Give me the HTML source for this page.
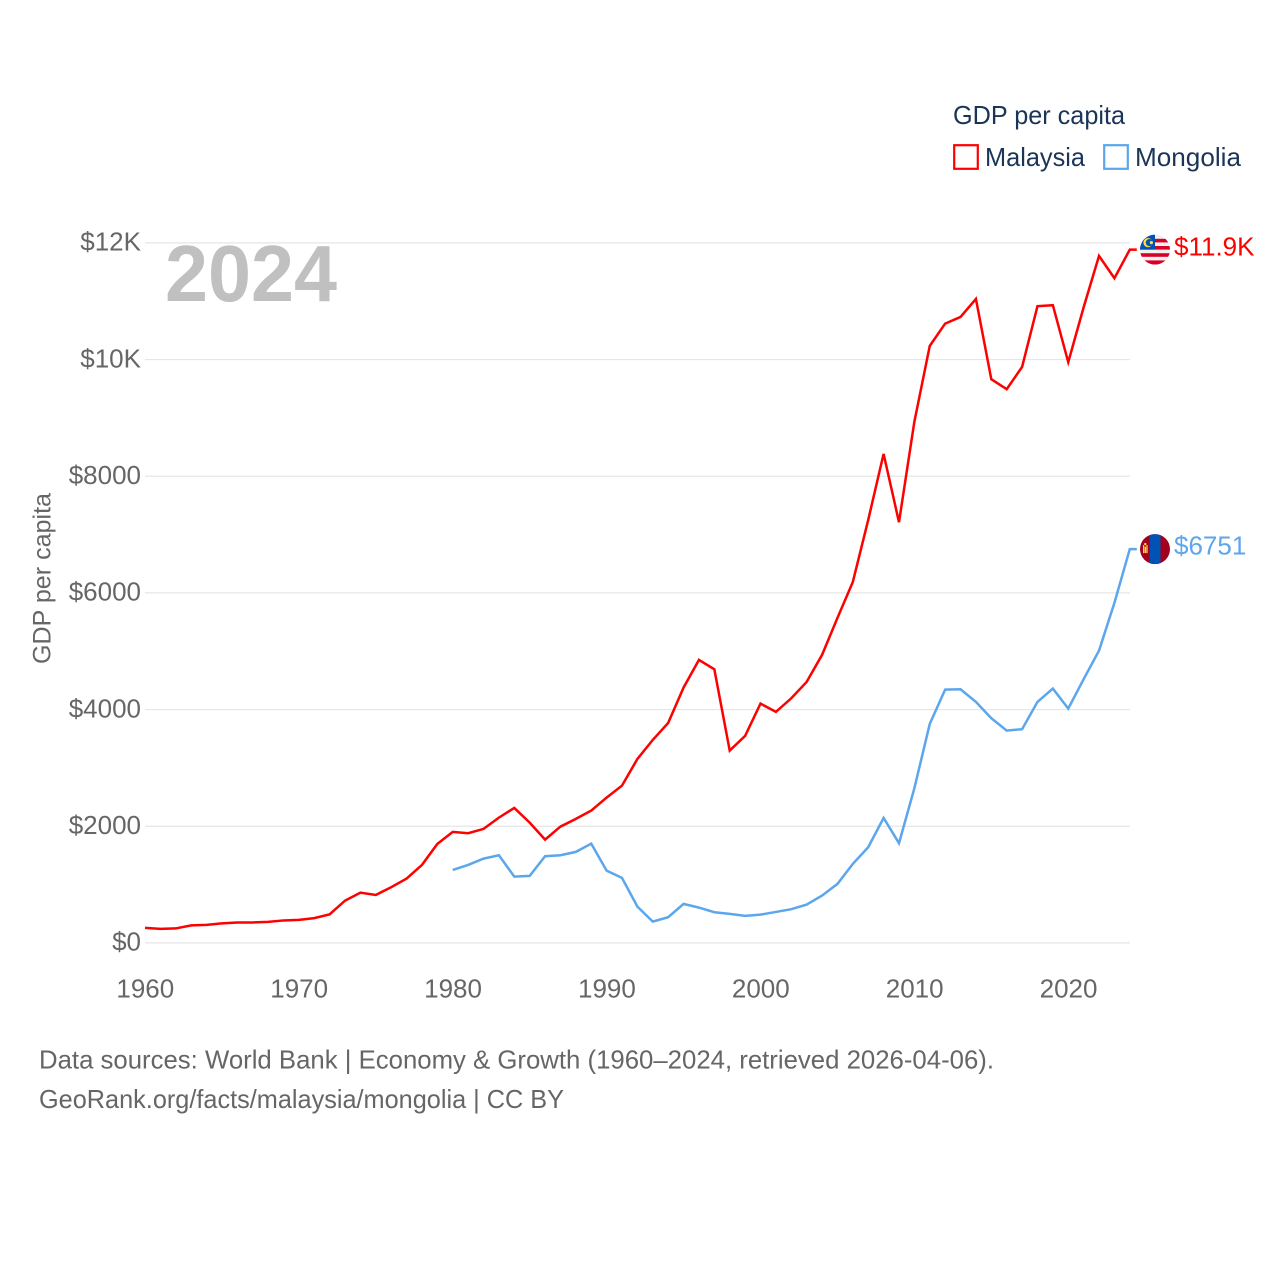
<!DOCTYPE html>
<html lang="en">
<head>
<meta charset="utf-8">
<title>GDP per capita: Malaysia and Mongolia</title>
<style>
html,body{margin:0;padding:0;background:#fff;}
svg{display:block;font-family:"Liberation Sans",sans-serif;}
</style>
</head>
<body>
<svg id="chart" width="1280" height="1280" viewBox="0 0 1280 1280" xmlns="http://www.w3.org/2000/svg">
  <defs>
    <clipPath id="flag-clip"><circle cx="0" cy="0" r="15"></circle></clipPath>
  </defs>
  <rect width="1280" height="1280" fill="#ffffff"></rect>

  <g id="grid"></g>
  <g id="y-ticks"></g>
  <g id="x-ticks"></g>

  <text x="165" y="301" font-size="80" font-weight="700" fill="#c0c0c0" textLength="172" lengthAdjust="spacingAndGlyphs">2024</text>
  <text transform="translate(50.5,664) rotate(-90)" font-size="25" fill="#666666" textLength="171" lengthAdjust="spacingAndGlyphs">GDP per capita</text>

  <g id="series"></g>

  <g id="flag-malaysia">
    <g clip-path="url(#flag-clip)">
      <rect x="-15" y="-15" width="30" height="30" fill="#f0f0f0"></rect>
      <rect x="-15" y="-10.8" width="30" height="3.6" fill="#d80027"></rect>
      <rect x="-15" y="-3.6" width="30" height="3.6" fill="#d80027"></rect>
      <rect x="-15" y="3.6" width="30" height="3.6" fill="#d80027"></rect>
      <rect x="-15" y="10.8" width="30" height="4.2" fill="#d80027"></rect>
      <rect x="-15" y="-15" width="15" height="15" fill="#0052b4"></rect>
      <circle cx="-7" cy="-7" r="4.6" fill="#ffda44"></circle>
      <circle cx="-5.6" cy="-7" r="3.6" fill="#0052b4"></circle>
      <circle cx="-3.6" cy="-7" r="1.6" fill="#ffda44"></circle>
    </g>
  </g>
  <g id="flag-mongolia">
    <g clip-path="url(#flag-clip)">
      <rect x="-15" y="-15" width="30" height="30" fill="#a2001d"></rect>
      <rect x="-5.5" y="-15" width="11" height="30" fill="#0052b4"></rect>
      <rect x="-12" y="-4" width="1.2" height="8" fill="#ffda44"></rect>
      <rect x="-8.6" y="-4" width="1.2" height="8" fill="#ffda44"></rect>
      <rect x="-10.4" y="-2.5" width="1.5" height="6.5" fill="#ffda44"></rect>
      <circle cx="-9.7" cy="-5" r="1.2" fill="#ffda44"></circle>
    </g>
  </g>
  <text id="label-malaysia" x="1174" y="255.5" font-size="26" fill="#ff0000"></text>
  <text id="label-mongolia" x="1174" y="554.5" font-size="26" fill="#5ba6ec"></text>

  <g>
    <text x="953" y="124" font-size="26" fill="#1b3558" textLength="172" lengthAdjust="spacingAndGlyphs">GDP per capita</text>
    <g>
      <rect x="954.2" y="145.2" width="23.6" height="23.6" fill="#ffffff" stroke="#ff0000" stroke-width="2.2"></rect>
      <text x="985" y="166" font-size="26" fill="#1b3558" textLength="100" lengthAdjust="spacingAndGlyphs">Malaysia</text>
    </g>
    <g>
      <rect x="1104.2" y="145.2" width="23.6" height="23.6" fill="#ffffff" stroke="#5ba6ec" stroke-width="2.2"></rect>
      <text x="1135" y="166" font-size="26" fill="#1b3558" textLength="106" lengthAdjust="spacingAndGlyphs">Mongolia</text>
    </g>
  </g>

  <text x="39" y="1068.5" font-size="26" fill="#666666" textLength="955" lengthAdjust="spacingAndGlyphs">Data sources: World Bank | Economy &amp; Growth (1960–2024, retrieved 2026-04-06).</text>
  <text x="39" y="1108" font-size="26" fill="#666666" textLength="525" lengthAdjust="spacingAndGlyphs">GeoRank.org/facts/malaysia/mongolia | CC BY</text>
</svg>

<script>
const yTickValues = [0, 2000, 4000, 6000, 8000, 10000, 12000];
const yTickLabels = ['$0', '$2000', '$4000', '$6000', '$8000', '$10K', '$12K'];
const xTickYears = [1960, 1970, 1980, 1990, 2000, 2010, 2020];
const xTickLabels = ['1960', '1970', '1980', '1990', '2000', '2010', '2020'];

const malaysiaStartYear = 1960;
const malaysiaValues = [
  257, 240, 248, 300, 310, 335, 350, 350, 360, 385,
  395, 425, 490, 725, 862, 822, 955, 1103, 1337, 1697,
  1903, 1880, 1954, 2148, 2314, 2062, 1771, 1994, 2126, 2268,
  2491, 2697, 3154, 3480, 3771, 4377, 4851, 4691, 3297, 3549,
  4102, 3960, 4194, 4474, 4937, 5571, 6188, 7251, 8383, 7212,
  8937, 10234, 10617, 10731, 11040, 9663, 9492, 9874, 10915, 10932,
  9955, 10897, 11777, 11394, 11885
];

const mongoliaStartYear = 1980;
const mongoliaValues = [
  1251, 1337, 1445, 1503, 1137, 1149, 1486, 1503, 1560, 1702,
  1239, 1114, 622, 365, 440, 669, 605, 526, 497, 463,
  485, 531, 578, 657, 811, 1011, 1354, 1640, 2143, 1709,
  2652, 3754, 4342, 4348, 4131, 3852, 3640, 3663, 4131, 4360,
  4017, 4520, 5011, 5829, 6751
];

const SVG_NS = 'http://www.w3.org/2000/svg';
function xScale(year) { return 145 + (year - 1960) * (1129.8 - 145) / 64; }
function yScale(value) { return 942.9 - value * 700 / 12000; }
function formatValue(v) { return v >= 10000 ? '$' + (v / 1000).toFixed(1) + 'K' : '$' + Math.round(v); }

const gridGroup = document.getElementById('grid');
const yTickGroup = document.getElementById('y-ticks');
const xTickGroup = document.getElementById('x-ticks');
const seriesGroup = document.getElementById('series');

yTickValues.forEach(function (v, i) {
  const line = document.createElementNS(SVG_NS, 'line');
  
  
  line.setAttribute('x1', 145);
  line.setAttribute('x2', 1130);
  line.setAttribute('y1', yScale(v));
  line.setAttribute('y2', yScale(v));
  line.setAttribute('stroke', '#e6e6e6');
  line.setAttribute('stroke-width', 1.2);
  gridGroup.appendChild(line);

  const label = document.createElementNS(SVG_NS, 'text');
  
  
  label.setAttribute('x', 141);
  label.setAttribute('y', yScale(v) + 7.8);
  label.setAttribute('text-anchor', 'end');
  label.setAttribute('font-size', 26);
  label.setAttribute('fill', '#666666');
  label.textContent = yTickLabels[i];
  yTickGroup.appendChild(label);
});

xTickYears.forEach(function (year, i) {
  const label = document.createElementNS(SVG_NS, 'text');
  
  
  label.setAttribute('x', xScale(year) + 0.3);
  label.setAttribute('y', 997.5);
  label.setAttribute('text-anchor', 'middle');
  label.setAttribute('font-size', 26);
  label.setAttribute('fill', '#666666');
  label.textContent = xTickLabels[i];
  xTickGroup.appendChild(label);
});

function seriesPoints(startYear, values) {
  const pts = values.map(function (v, i) {
    return xScale(startYear + i).toFixed(2) + ',' + yScale(v).toFixed(2);
  });
  const lastYear = startYear + values.length - 1;
  pts.push((xScale(lastYear) + 7).toFixed(2) + ',' + yScale(values[values.length - 1]).toFixed(2));
  return pts.join(' ');
}

const malaysiaLine = document.createElementNS(SVG_NS, 'polyline');


malaysiaLine.setAttribute('points', seriesPoints(malaysiaStartYear, malaysiaValues));
malaysiaLine.setAttribute('fill', 'none');
malaysiaLine.setAttribute('stroke', '#ff0000');
malaysiaLine.setAttribute('stroke-width', 2.5);
seriesGroup.appendChild(malaysiaLine);

const mongoliaLine = document.createElementNS(SVG_NS, 'polyline');


mongoliaLine.setAttribute('points', seriesPoints(mongoliaStartYear, mongoliaValues));
mongoliaLine.setAttribute('fill', 'none');
mongoliaLine.setAttribute('stroke', '#5ba6ec');
mongoliaLine.setAttribute('stroke-width', 2.5);
seriesGroup.appendChild(mongoliaLine);

const malaysiaLast = malaysiaValues[malaysiaValues.length - 1];
const mongoliaLast = mongoliaValues[mongoliaValues.length - 1];
document.getElementById('flag-malaysia').setAttribute('transform', 'translate(1155,' + yScale(malaysiaLast) + ')');
document.getElementById('flag-mongolia').setAttribute('transform', 'translate(1155,' + yScale(mongoliaLast) + ')');
const malaysiaLabel = document.getElementById('label-malaysia');
malaysiaLabel.setAttribute('y', yScale(malaysiaLast) + 5.8);
malaysiaLabel.textContent = formatValue(malaysiaLast);
const mongoliaLabel = document.getElementById('label-mongolia');
mongoliaLabel.setAttribute('y', yScale(mongoliaLast) + 5.6);
mongoliaLabel.textContent = formatValue(mongoliaLast);
</script>
</body>
</html>
